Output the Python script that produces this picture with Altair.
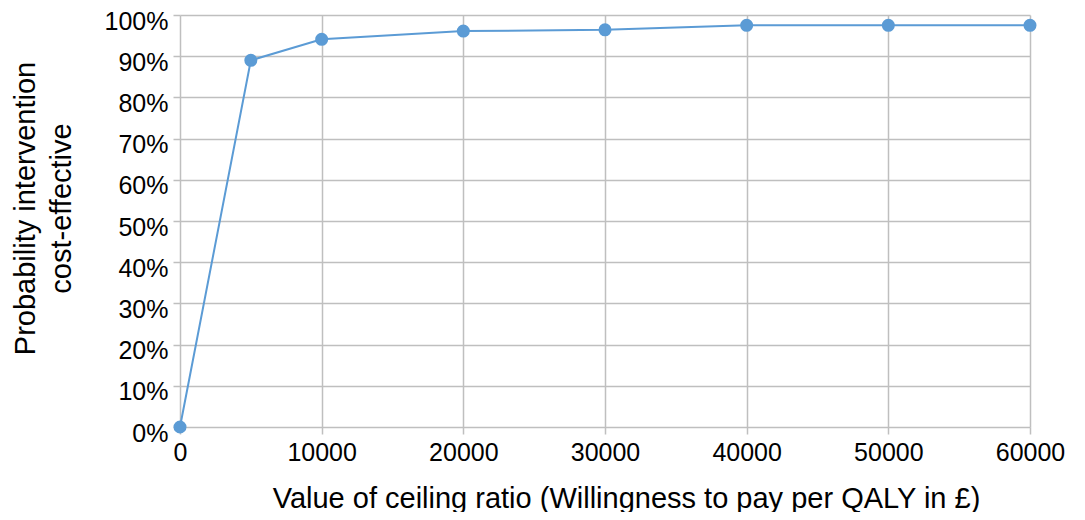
import altair as alt
import pandas as pd

wtp = [0, 5000, 10000, 20000, 30000, 40000, 50000, 60000]
prob = [0.0, 0.89, 0.941, 0.961, 0.964, 0.975, 0.975, 0.975]

df = pd.DataFrame({"wtp": wtp, "prob": prob})

FONT = "Liberation Sans"
BLUE = "#5B9BD5"
GRID = "#BFBFBF"

x = alt.X("wtp:Q",
          scale=alt.Scale(domain=[0, 60000], nice=False),
          axis=alt.Axis(values=[0, 10000, 20000, 30000, 40000, 50000, 60000],
                        format="d", labelFlush=False,
                        title="Value of ceiling ratio (Willingness to pay per QALY in £)",
                        titlePadding=19, titleX=446, titleFontSize=29))
y = alt.Y("prob:Q",
          scale=alt.Scale(domain=[0, 1], nice=False),
          axis=alt.Axis(values=[i / 10 for i in range(11)], format=".0%",
                        title=["Probability intervention", "cost-effective"],
                        titlePadding=28, titleLineHeight=36, titleFontSize=29,
                        titleY=193, labelOffset=6))

base = alt.Chart(df)
line = base.mark_line(color=BLUE, strokeWidth=2).encode(x=x, y=y)
pts = base.mark_point(filled=True, color=BLUE, size=170, opacity=1).encode(x=x, y=y)

chart = (line + pts).properties(
    width=850, height=412,
    autosize=alt.AutoSizeParams(type="none"),
    padding={"left": 172, "top": 7, "right": 45, "bottom": 85},
).configure_view(stroke=None).configure_axis(
    labelFont=FONT, titleFont=FONT, labelFontSize=25, titleFontSize=28,
    labelColor="#000000", titleColor="#000000", titleFontWeight="normal",
    gridColor=GRID, gridWidth=1.5, gridOpacity=1,
    domain=False, tickColor=GRID, tickSize=7, tickWidth=1.5,
    labelPadding=5,
).configure_axisX(labelPadding=6)

chart.save("out.html", embed_options={"renderer": "svg", "actions": False})
